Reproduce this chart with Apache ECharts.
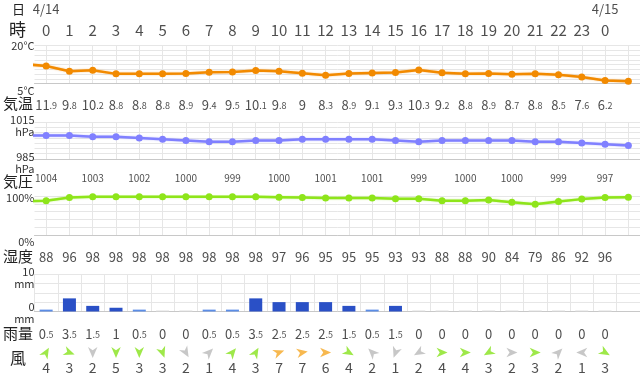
<!DOCTYPE html>
<html>
<head>
<meta charset="utf-8">
<script src="https://cdn.jsdelivr.net/npm/echarts@6/dist/echarts.min.js"></script>
<style>
  html, body { margin: 0; padding: 0; background: #fff; }
  #chart { width: 640px; height: 376px; }
</style>
</head>
<body>
<div id="chart"></div>
<script>
// 時刻・日付
var hours = ['0','1','2','3','4','5','6','7','8','9','10','11','12','13','14','15','16','17','18','19','20','21','22','23','0']
var dayLabels = ['4/14','','','','','','','','','','','','','','','','','','','','','','','','4/15']

// 気温 (℃)  edge = 画面外の前後の値
var temps = [11.9, 9.8, 10.2, 8.8, 8.8, 8.8, 8.9, 9.4, 9.5, 10.1, 9.8, 9, 8.3, 8.9, 9.1, 9.3, 10.3, 9.2, 8.8, 8.9, 8.7, 8.8, 8.5, 7.6, 6.2]
var tempEdge = [12.7, 5.9]
var tempRange = [5, 20]

// 気圧 (hPa)
var pressure = [1004, 1004, 1003, 1003, 1002, 1001, 1000, 999, 999, 1000, 1000, 1001, 1001, 1001, 1001, 1000, 999, 1000, 1000, 1000, 1000, 999, 999, 998, 997]
var pressureEdge = [1004, 996]
var pressureRange = [985, 1015]

// 湿度 (%)
var humidity = [88, 96, 98, 98, 98, 98, 98, 98, 98, 98, 97, 96, 95, 95, 95, 93, 93, 88, 88, 90, 84, 79, 86, 92, 96]
var humidityEdge = [86, 97]
var humidityRange = [0, 100]

// 雨量 (mm)
var rain = [0.5, 3.5, 1.5, 1, 0.5, 0, 0, 0.5, 0.5, 3.5, 2.5, 2.5, 2.5, 1.5, 0.5, 1.5, 0, 0, 0, 0, 0, 0, 0, 0, 0]
var rainRange = [0, 10]

// 風速 (m/s) と 矢印の向き (度, 北から時計回り)
var windSpeed = [4, 3, 2, 5, 3, 3, 2, 1, 4, 3, 7, 7, 6, 4, 2, 1, 2, 4, 4, 3, 2, 3, 2, 1, 3]
var windDir = [30, 110, 180, 180, 180, 160, 150, 45, 40, 30, 70, 80, 90, 120, 315, 200, 240, 90, 90, 240, 90, 90, 45, 270, 120]

var FONT = '"Noto Sans CJK JP", "Noto Sans", sans-serif'
var TEXT = '#222'
var GRID_LINE = '#e6e6e6'
var AXIS_LINE = '#c8c8c8'
var LEFT = 34.5
var WIDTH = 624 // 26 マス x 24px

var myChart = echarts.init(document.getElementById('chart'))

// 小数部を小さく表示
function decText(v) {
  var p = String(v).split('.')
  return p.length > 1 ? '{i|' + p[0] + '}{d|.' + p[1] + '}' : '{i|' + p[0] + '}'
}

function withEdges(arr, edge) {
  var d = [[-1, edge[0]]]
  arr.forEach(function (v, i) { d.push([i, v]) })
  d.push([arr.length, edge[1]])
  return d
}

function panelX(gi, centerLines) {
  return {
    type: 'value', gridIndex: gi, min: -0.5, max: 25.5,
    interval: centerLines ? 0.5 : 1,
    axisLabel: { show: false }, axisTick: { show: false },
    axisLine: { show: true, onZero: false, lineStyle: { color: AXIS_LINE } },
    splitLine: { show: true, lineStyle: { color: centerLines ? ['rgba(0,0,0,0)', GRID_LINE] : GRID_LINE } }
  }
}

function dataY(gi, range, fmt, rich) {
  return {
    type: 'value', gridIndex: gi, min: range[0], max: range[1], interval: range[1] - range[0],
    position: 'left',
    splitLine: { show: false }, axisLine: { show: false }, axisTick: { show: false },
    axisLabel: {
      margin: 0, fontSize: 11, color: '#333', fontFamily: FONT, lineHeight: 12,
      formatter: fmt, rich: rich
    }
  }
}

function dummyY(gi, n) {
  return {
    type: 'value', gridIndex: gi, min: 0, max: n, interval: 1, position: 'right',
    axisLabel: { show: false }, axisLine: { show: false }, axisTick: { show: false },
    splitLine: { show: true, lineStyle: { color: GRID_LINE } }
  }
}

function shiftRich(top, bottom) {
  return {
    t: { fontSize: 11, color: '#333', fontFamily: FONT, lineHeight: 12, padding: [top, 0, 0, 0], align: 'right' },
    b: { fontSize: 11, color: '#333', fontFamily: FONT, lineHeight: 12, padding: [bottom, 0, 0, 0], align: 'right' }
  }
}

function lineSeries(xi, yi, arr, edge, color, halo) {
  return {
    type: 'line', xAxisIndex: xi, yAxisIndex: yi, data: withEdges(arr, edge),
    symbol: 'circle', symbolSize: 7, clip: true, silent: true,
    itemStyle: { color: color },
    lineStyle: { color: color, width: 2.5, shadowColor: halo, shadowBlur: 2 }
  }
}

function textRow(y, arr, fontSize, fmt, rich) {
  return {
    type: 'scatter', xAxisIndex: 0, yAxisIndex: 0, silent: true, symbolSize: 1,
    itemStyle: { color: 'rgba(0,0,0,0)' },
    data: arr.map(function (v, i) { return { value: [i, y], name: String(v), raw: v } }).filter(function (d) { return d.name !== '' }),
    label: {
      show: true, position: 'inside', color: TEXT, fontSize: fontSize, fontFamily: FONT,
      formatter: fmt || function (p) { return p.name }, rich: rich
    },
    z: 5
  }
}

var decRich = {
  i: { fontSize: 13, color: TEXT, fontFamily: FONT, verticalAlign: 'bottom', lineHeight: 15 },
  d: { fontSize: 9, color: TEXT, fontFamily: FONT, verticalAlign: 'bottom', lineHeight: 15, padding: [0, 0, 1.5, 0] }
}

function windColor(s) {
  if (s >= 6) return '#f5a623'
  if (s >= 3) return '#86e21c'
  return '#b9b9b9'
}

function rainColor(v) {
  if (v >= 1) return '#2a50c6'
  if (v > 0) return '#5b8de6'
  return '#dddddd'
}

var option = {
  animation: false,
  grid: [
    { left: LEFT, width: WIDTH, top: 0, height: 376 },
    { left: LEFT, width: WIDTH, top: 45.5, height: 38 },
    { left: LEFT, width: WIDTH, top: 122, height: 37 },
    { left: LEFT, width: WIDTH, top: 196, height: 39 },
    { left: LEFT, width: WIDTH, top: 274, height: 37.5 }
  ],
  xAxis: [
    { type: 'value', gridIndex: 0, min: -0.5, max: 25.5, show: false },
    panelX(1, true),
    panelX(2, true),
    panelX(3, true),
    panelX(4, false)
  ],
  yAxis: [
    { type: 'value', gridIndex: 0, min: 0, max: 376, inverse: true, show: false },
    dataY(1, tempRange, function (v) { return v === tempRange[1] ? '{t|' + v + '°C}' : '{b|' + v + '°C}' }, shiftRich(0, 14)),
    dummyY(1, 8),
    dataY(2, pressureRange, function (v) { return v === pressureRange[1] ? '{t|' + v + '}\n{t|hPa}' : '{b|' + v + '}\n{b|hPa}' }, shiftRich(8, 8)),
    dummyY(2, 7),
    dataY(3, humidityRange, function (v) { return v === humidityRange[1] ? '{t|' + v + '%}' : '{b|' + v + '%}' }, shiftRich(4, 14)),
    dummyY(3, 5),
    dataY(4, rainRange, function (v) { return v === rainRange[1] ? '{t|' + v + '}\n{t|mm}' : '{b|' + v + '}\n{b|mm}' }, shiftRich(7, 2)),
    dummyY(4, 4)
  ],
  graphic: [
    { type: 'text', left: 12, top: 3, style: { text: '日', fontSize: 13, fill: TEXT, fontFamily: FONT } },
    { type: 'text', left: 9, top: 21, style: { text: '時', fontSize: 17, fill: TEXT, fontFamily: FONT } },
    { type: 'text', left: 3, top: 96, style: { text: '気温', fontSize: 15, fill: TEXT, fontFamily: FONT } },
    { type: 'text', left: 3, top: 174, style: { text: '気圧', fontSize: 15, fill: TEXT, fontFamily: FONT } },
    { type: 'text', left: 3, top: 249, style: { text: '湿度', fontSize: 15, fill: TEXT, fontFamily: FONT } },
    { type: 'text', left: 3, top: 326, style: { text: '雨量', fontSize: 15, fill: TEXT, fontFamily: FONT } },
    { type: 'text', left: 10, top: 350, style: { text: '風', fontSize: 16, fill: TEXT, fontFamily: FONT } }
  ],
  series: [
    lineSeries(1, 1, temps, tempEdge, '#f28a00', 'rgba(242,138,0,0.45)'),
    lineSeries(2, 3, pressure, pressureEdge, '#8080ff', 'rgba(128,128,255,0.45)'),
    lineSeries(3, 5, humidity, humidityEdge, '#8ee51a', 'rgba(142,229,26,0.45)'),
    {
      type: 'bar', xAxisIndex: 4, yAxisIndex: 7, barWidth: 13, barMinHeight: 1, silent: true,
      data: rain.map(function (v, i) {
        return { value: [i, v], itemStyle: { color: rainColor(v) } }
      })
    },
    textRow(9.5, dayLabels, 13),
    textRow(30.5, hours, 15),
    textRow(104, temps, 13, function (p) { return decText(p.data.raw) }, decRich),
    textRow(178, pressure.map(function (v, i) { return i % 2 === 0 ? v : '' }), 10),
    textRow(257, humidity, 13),
    textRow(333.5, rain, 13, function (p) { return decText(p.data.raw) }, decRich),
    {
      type: 'scatter', xAxisIndex: 0, yAxisIndex: 0, silent: true,
      symbol: 'path://M0,0 L6,14 L0,10 L-6,14 Z', symbolKeepAspect: true, symbolSize: 11,
      data: windSpeed.map(function (s, i) {
        return { value: [i, 352.5], symbolRotate: -windDir[i], itemStyle: { color: windColor(s) } }
      }),
      z: 5
    },
    textRow(367.5, windSpeed, 14)
  ]
}

myChart.setOption(option)
</script>
</body>
</html>
